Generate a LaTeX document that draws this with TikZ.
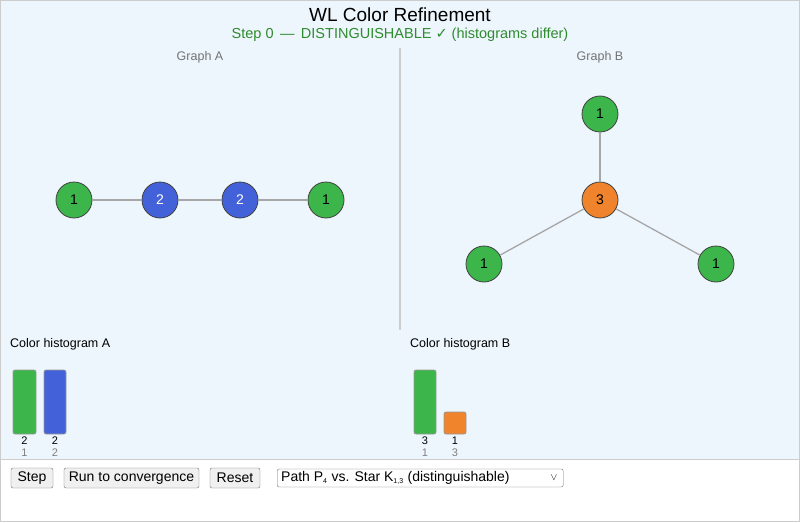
\documentclass[tikz,border=0pt]{standalone}
\usepackage{fontspec}
\setmainfont{Liberation Sans}
\newfontfamily\dejavu{DejaVu Sans}
\definecolor{bgb}{HTML}{EEF6FD}
\definecolor{gr}{HTML}{3CB54A}
\definecolor{bl}{HTML}{4361D8}
\definecolor{orn}{HTML}{F0842C}
\definecolor{titlegreen}{HTML}{2E8B2E}
\tikzset{
 x=1pt,y=-1pt,
 vtx/.style={circle,draw=black!75,line width=0.8pt,minimum size=36pt,inner sep=0pt,font=\fontsize{14}{14}\selectfont},
 edge/.style={draw=black!35,line width=1.3pt},
 bar/.style={draw=black!40,line width=0.8pt,rounded corners=2pt},
 btn/.style={draw=black!55,fill=black!6,rounded corners=2pt,minimum height=20pt,inner sep=0pt,font=\fontsize{14}{14}\selectfont},
 lbl/.style={font=\fontsize{12.5}{12.5}\selectfont,black!55},
}
\begin{document}
\begin{tikzpicture}
\useasboundingbox (0,0) rectangle (800,522);
\fill[white] (0,0) rectangle (800,522);
\fill[bgb] (0,0) rectangle (800,459);
\draw[black!20] (0,459) -- (800,459);
\draw[black!20] (0.5,0.5) rectangle (799.5,521.5);
\node[font=\fontsize{19}{19}\selectfont] (title) at (400,15) {WL Color Refinement};
\node[font=\fontsize{14.5}{14.5}\selectfont,text=titlegreen] (sub) at (400,35) {Step 0\, —\, DISTINGUISHABLE {\dejavu ✓} (histograms differ)};
\node[lbl] (ga) at (200,57) {Graph A};
\node[lbl] (gb) at (600,57) {Graph B};
\coordinate (d1) at (400,48); \coordinate (d2) at (400,330);
\draw[black!20,line width=1.6pt] (d1) -- (d2);
% graph A
\node[vtx,fill=gr] (a1) at (74,200) {1};
\node[vtx,fill=bl,text=white] (a2) at (160,200) {2};
\node[vtx,fill=bl,text=white] (a3) at (240,200) {2};
\node[vtx,fill=gr] (a4) at (326,200) {1};
\draw[edge] (a1) -- (a2); \draw[edge] (a2) -- (a3); \draw[edge] (a3) -- (a4);
% graph B
\node[vtx,fill=gr] (b1) at (600,114) {1};
\node[vtx,fill=orn] (b0) at (600,200) {3};
\node[vtx,fill=gr] (b2) at (484,264) {1};
\node[vtx,fill=gr] (b3) at (716,264) {1};
\draw[edge] (b0) -- (b1); \draw[edge] (b0) -- (b2); \draw[edge] (b0) -- (b3);
% histograms
\node[font=\fontsize{12.5}{12.5}\selectfont,anchor=west,inner sep=0pt] (ha) at (10,344) {Color histogram A};
\node[font=\fontsize{12.5}{12.5}\selectfont,anchor=west,inner sep=0pt] (hb) at (410,344) {Color histogram B};
\draw[bar,fill=gr] (13,370) rectangle (36,434);
\draw[bar,fill=bl] (44,370) rectangle (66,434);
\draw[bar,fill=gr] (414,370) rectangle (436,434);
\draw[bar,fill=orn] (444,412) rectangle (466,434);
\foreach \x/\c/\k [count=\i] in {24.5/2/1,55/2/2,425/3/1,455/1/3}{
 \node[font=\fontsize{11}{11}\selectfont] (cnt\i) at (\x,441) {\c};
 \node[font=\fontsize{11}{11}\selectfont,black!50] (key\i) at (\x,453) {\k};
}
% controls
\node[btn,minimum width=42pt] (bstep) at (32,478) {Step};
\node[btn,minimum width=135pt] (brun) at (131.5,478) {Run to convergence};
\node[btn,minimum width=50pt] (breset) at (235,478) {Reset};
\node[draw=black!55,fill=white,rounded corners=2pt,minimum height=18pt,minimum width=286pt,anchor=west] (sel) at (277,478) {};
\node[font=\fontsize{14}{14}\selectfont,anchor=west,inner sep=0pt] (seltxt) at (281,478) {Path P\textsubscript{\scriptsize 4} vs. Star K\textsubscript{\scriptsize 1,3} (distinguishable)};
\node[font=\fontsize{10}{10}\selectfont] (arr) at (554,478) {$\vee$};
\end{tikzpicture}
\end{document}
